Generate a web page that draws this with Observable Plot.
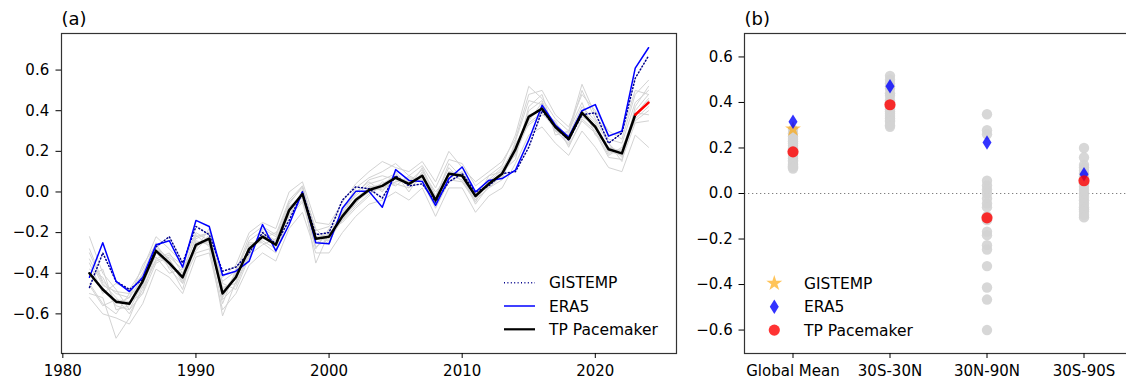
<!DOCTYPE html>
<html><head><meta charset="utf-8">
<script src="https://cdn.jsdelivr.net/npm/d3@7"></script>
<script src="https://cdn.jsdelivr.net/npm/@observablehq/plot@0.6"></script>
<style>
html,body{margin:0;padding:0;background:#fff;overflow:hidden;}
#wrap{position:relative;width:1126px;height:384px;overflow:hidden;font-family:"DejaVu Sans",sans-serif;}
#wrap svg{position:absolute;top:0;}
</style></head><body><div id="wrap"></div>
<script>
// ---------- Panel (a) data ----------
const years = [1982,1983,1984,1985,1986,1987,1988,1989,1990,1991,1992,1993,1994,1995,1996,1997,1998,1999,
  2000,2001,2002,2003,2004,2005,2006,2007,2008,2009,2010,2011,2012,2013,2014,2015,2016,2017,2018,2019,
  2020,2021,2022,2023,2024];
const gistemp = [-0.47,-0.30,-0.44,-0.48,-0.43,-0.27,-0.22,-0.35,
  -0.17,-0.21,-0.39,-0.37,-0.30,-0.20,-0.255,-0.14,0.00,-0.21,
  -0.20,-0.04,0.025,0.016,-0.03,0.08,0.03,0.04,-0.05,0.05,
  0.09,0.00,0.03,0.09,0.10,0.22,0.40,0.32,0.255,0.38,
  0.39,0.24,0.29,0.56,0.67];
const era5 = [-0.42,-0.25,-0.44,-0.49,-0.42,-0.26,-0.24,-0.37,
  -0.14,-0.17,-0.41,-0.39,-0.34,-0.16,-0.29,-0.16,0.00,-0.25,
  -0.255,-0.08,0.003,0.003,-0.075,0.11,0.057,0.052,-0.066,0.066,
  0.123,0.00,0.057,0.066,0.107,0.255,0.427,0.33,0.27,0.40,
  0.43,0.275,0.30,0.61,0.71];
const tpYears = [1982,1983,1984,1985,1986,1987,1988,1989,1990,1991,1992,1993,1994,1995,1996,1997,1998,1999,
  2000,2001,2002,2003,2004,2005,2006,2007,2008,2009,2010,2011,2012,2013,2014,2015,2016,2017,2018,2019,
  2020,2021,2022,2023];
const tpPacemaker = [-0.40,-0.48,-0.54,-0.55,-0.44,-0.29,-0.35,-0.42,
  -0.26,-0.23,-0.50,-0.42,-0.28,-0.22,-0.26,-0.09,-0.01,-0.23,
  -0.22,-0.12,-0.04,0.01,0.03,0.07,0.04,0.08,-0.04,0.09,
  0.08,-0.02,0.04,0.09,0.21,0.37,0.41,0.32,0.26,0.39,
  0.32,0.21,0.19,0.38];
const tpRecentYears = [2023,2024];
const tpRecent = [0.38,0.44];
const members = [
 [-0.30,-0.45,-0.52,-0.60,-0.48,-0.33,-0.30,-0.40, -0.22,-0.20,-0.47,-0.45,-0.30,-0.18,-0.22,-0.05,0.02,-0.18,
  -0.25,-0.10,0.00,0.05,0.00,0.10,0.02,0.12,-0.02,0.12, 0.05,-0.05,0.06,0.12,0.18,0.40,0.45,0.30,0.28,0.42, 0.35,0.24,0.17,0.40,0.48],
 [-0.45,-0.55,-0.60,-0.50,-0.40,-0.25,-0.38,-0.45, -0.30,-0.28,-0.55,-0.38,-0.25,-0.25,-0.30,-0.12,-0.05,-0.28,
  -0.18,-0.15,-0.08,-0.02,0.05,0.03,0.08,0.05,-0.08,0.05, 0.10,0.00,0.02,0.06,0.24,0.33,0.38,0.35,0.22,0.36, 0.30,0.18,0.22,0.35,0.40],
 [-0.22,-0.40,-0.48,-0.58,-0.50,-0.35,-0.32,-0.38, -0.28,-0.18,-0.45,-0.48,-0.32,-0.20,-0.24,-0.06,0.03,-0.20,
  -0.26,-0.08,-0.02,0.04,0.06,0.09,0.00,0.10,0.00,0.08, 0.06,-0.04,0.08,0.10,0.16,0.42,0.48,0.28,0.30,0.44, 0.28,0.24,0.15,0.42,0.52],
 [-0.50,-0.52,-0.72,-0.62,-0.46,-0.30,-0.36,-0.48, -0.24,-0.26,-0.61,-0.44,-0.26,-0.24,-0.28,-0.10,0.00,-0.35,
  -0.20,-0.14,-0.05,0.00,0.02,0.05,0.06,0.06,-0.06,0.10, 0.08,-0.06,0.03,0.08,0.22,0.35,0.44,0.30,0.24,0.40, 0.34,0.20,0.18,0.36,0.42],
 [-0.38,-0.42,-0.55,-0.52,-0.42,-0.28,-0.33,-0.45, -0.27,-0.22,-0.52,-0.40,-0.29,-0.21,-0.25,-0.08,-0.02,-0.25,
  -0.22,-0.12,-0.03,0.02,0.04,0.08,0.04,0.09,-0.05,0.10, 0.09,-0.02,0.04,0.09,0.20,0.38,0.40,0.33,0.25,0.38, 0.31,0.22,0.20,0.37,0.45],
 [-0.35,-0.50,-0.45,-0.48,-0.38,-0.22,-0.28,-0.35, -0.20,-0.24,-0.42,-0.36,-0.20,-0.15,-0.18,0.00,0.05,-0.15,
  -0.16,-0.05,0.04,0.10,0.15,0.12,0.10,0.15,0.05,0.20, 0.12,0.05,0.10,0.15,0.26,0.48,0.50,0.38,0.32,0.48, 0.40,0.30,0.26,0.48,0.55],
 [-0.52,-0.60,-0.62,-0.65,-0.55,-0.38,-0.42,-0.50, -0.32,-0.30,-0.58,-0.50,-0.36,-0.30,-0.34,-0.18,-0.10,-0.30,
  -0.30,-0.20,-0.12,-0.06,-0.04,0.00,-0.04,0.02,-0.12,0.02, 0.02,-0.10,-0.02,0.02,0.14,0.28,0.32,0.24,0.18,0.30, 0.22,0.12,0.10,0.28,0.22],
 [-0.42,-0.38,-0.58,-0.56,-0.40,-0.32,-0.40,-0.38, -0.23,-0.20,-0.48,-0.43,-0.27,-0.23,-0.20,-0.12,0.01,-0.22,
  -0.24,-0.13,-0.06,0.03,0.01,0.05,0.07,0.06,-0.02,0.07, 0.10,-0.03,0.05,0.11,0.23,0.36,0.42,0.34,0.27,0.37, 0.33,0.19,0.21,0.39,0.38],
 [-0.28,-0.44,-0.50,-0.52,-0.36,-0.26,-0.34,-0.44, -0.25,-0.25,-0.50,-0.40,-0.24,-0.19,-0.27,-0.07,-0.03,-0.24,
  -0.19,-0.11,-0.01,0.06,0.08,0.06,0.05,0.11,-0.03,0.14, 0.07,0.00,0.06,0.07,0.25,0.45,0.43,0.30,0.29,0.50, 0.36,0.26,0.24,0.44,0.50],
 [-0.46,-0.56,-0.53,-0.54,-0.50,-0.30,-0.37,-0.40, -0.29,-0.21,-0.53,-0.46,-0.31,-0.26,-0.23,-0.11,-0.04,-0.27,
  -0.23,-0.14,-0.07,-0.01,0.03,0.04,0.02,0.07,-0.07,0.06, 0.05,-0.04,0.02,0.08,0.19,0.34,0.39,0.31,0.23,0.35, 0.29,0.17,0.16,0.34,0.35],
 [-0.40,-0.47,-0.56,-0.58,-0.45,-0.27,-0.33,-0.43, -0.26,-0.24,-0.49,-0.41,-0.28,-0.22,-0.26,-0.09,-0.02,-0.22,
  -0.21,-0.11,-0.04,0.02,0.03,0.08,0.03,0.08,-0.04,0.09, 0.08,-0.01,0.04,0.10,0.22,0.36,0.41,0.32,0.26,0.40, 0.32,0.21,0.19,0.38,0.46],
 [-0.33,-0.46,-0.49,-0.50,-0.47,-0.34,-0.31,-0.36, -0.21,-0.27,-0.44,-0.39,-0.22,-0.17,-0.21,-0.04,0.03,-0.19,
  -0.17,-0.09,0.02,0.07,0.10,0.14,0.08,0.13,0.02,0.16, 0.14,0.03,0.08,0.13,0.28,0.52,0.46,0.36,0.30,0.53, 0.38,0.28,0.29,0.50,0.48]
];
const yearTicks = [1980,1990,2000,2010,2020];
const yTicks = [-0.6,-0.4,-0.2,0.0,0.2,0.4,0.6];

// ---------- Panel (b) data ----------
const regions = ["Global Mean","30S-30N","30N-90N","30S-90S"];
const regionTicks = [0,1,2,3];
const bGistemp = [0.283];
const bEra5 = [0.315,0.471,0.224,0.085];
const bTP = [0.183,0.39,-0.107,0.056];
const bMembers = [
 [0.28,0.265,0.25,0.24,0.23,0.22,0.21,0.20,0.195,0.185,0.175,0.165,0.155,0.145,0.14,0.13,0.125,0.12,0.115,0.11],
 [0.517,0.50,0.483,0.47,0.46,0.44,0.43,0.41,0.40,0.39,0.38,0.37,0.36,0.35,0.34,0.33,0.32,0.315,0.30,0.293],
 [0.348,0.278,0.26,0.056,0.035,0.018,0.0,-0.022,-0.044,-0.06,-0.10,-0.117,-0.168,-0.183,-0.227,-0.246,-0.319,-0.413,-0.466,-0.60],
 [0.20,0.158,0.125,0.114,0.10,0.088,0.075,0.06,0.045,0.03,0.015,0.0,-0.015,-0.03,-0.045,-0.06,-0.07,-0.08,-0.095,-0.105]
];

// ---------- helpers ----------
const FONT = "DejaVu Sans";
const TICK_FS = 15;
const fmt1 = d3.format(".1f");
const series = (xs, vs) => xs.map((x,i)=>({x, v: vs[i]}));
const memberRows = members.flatMap((m,k)=> years.map((y,i)=>({x:y, v:m[i], k})));
const thinDiamond = {
  draw(ctx, size) {
    const r = Math.sqrt(size/Math.PI);
    const h = r*1.45, w = r*0.9;
    ctx.moveTo(0,-h); ctx.lineTo(w,0); ctx.lineTo(0,h); ctx.lineTo(-w,0); ctx.closePath();
  }
};
const style = {fontFamily: FONT, color: "#000", background: "transparent", overflow: "visible"};

const wrap = document.getElementById("wrap");

// ---------- Panel (a) ----------
const pa = Plot.plot({
  width: 690, height: 384,
  marginLeft: 61, marginRight: 14, marginTop: 33, marginBottom: 31,
  style,
  x: {domain: [1979.9, 2026.1]},
  y: {domain: [-0.795, 0.78]},
  marks: [
    Plot.line(memberRows, {x: "x", y: "v", z: "k", stroke: "#d3d3d3", strokeWidth: 1}),
    Plot.line(series(years, gistemp), {x: "x", y: "v", stroke: "#00008b", strokeWidth: 1.5, strokeDasharray: "1,2.4"}),
    Plot.line(series(years, era5), {x: "x", y: "v", stroke: "#0000ff", strokeWidth: 1.5}),
    Plot.line(series(tpYears, tpPacemaker), {x: "x", y: "v", stroke: "#000", strokeWidth: 2.5}),
    Plot.line(series(tpRecentYears, tpRecent), {x: "x", y: "v", stroke: "#ff0000", strokeWidth: 2.5}),
    Plot.frame({stroke: "#333", strokeWidth: 1.2}),
    Plot.axisX({ticks: yearTicks, tickFormat: d => String(d), tickSize: 5, tickPadding: 7, label: null, fontSize: TICK_FS}),
    Plot.axisY({ticks: yTicks, tickFormat: fmt1, tickSize: 5.5, tickPadding: 6.8, label: null, fontSize: TICK_FS}),
    Plot.text(["(a)"], {frameAnchor: "top-left", textAnchor: "start", lineAnchor: "middle", dy: -14, fontSize: 18})
  ]
});
pa.style.left = "0px";
wrap.appendChild(pa);

// ---------- Panel (b) ----------
const bRows = bMembers.flatMap((vals,i)=> vals.map(v=>({x:i, v})));
const idx = vs => vs.map((v,i)=>({x:i, v}));
const pb = Plot.plot({
  width: 442, height: 384,
  marginLeft: 54, marginRight: 0, marginTop: 33, marginBottom: 31,
  style,
  x: {domain: [-0.5, 3.5]},
  y: {domain: [-0.703, 0.703]},
  marks: [
    Plot.ruleY([0], {stroke: "#808080", strokeWidth: 1.1, strokeDasharray: "1.3,2.7"}),
    Plot.dot(bRows, {x: "x", y: "v", r: 5.2, fill: "#d3d3d3", fillOpacity: 0.9}),
    Plot.dot(idx(bGistemp), {x: "x", y: "v", r: 5, symbol: "star", fill: "orange", fillOpacity: 0.65}),
    Plot.dot(idx(bEra5), {x: "x", y: "v", r: 5, symbol: thinDiamond, fill: "#0000ff", fillOpacity: 0.8}),
    Plot.dot(idx(bTP), {x: "x", y: "v", r: 5.6, fill: "#ff0000", fillOpacity: 0.8}),
    Plot.frame({stroke: "#333", strokeWidth: 1.2}),
    Plot.axisX({ticks: regionTicks, tickFormat: i => regions[i], tickSize: 5, tickPadding: 7, label: null, fontSize: TICK_FS}),
    Plot.axisY({ticks: yTicks, tickFormat: fmt1, tickSize: 5.5, tickPadding: 6.3, label: null, fontSize: TICK_FS}),
    Plot.text(["(b)"], {frameAnchor: "top-left", textAnchor: "start", lineAnchor: "middle", dy: -14, fontSize: 18})
  ]
});
pb.style.left = "690px";
wrap.appendChild(pb);

// ---------- Legends (overlay) ----------
const leg = d3.select(wrap).append("svg")
  .attr("width", 1126).attr("height", 384)
  .style("left", "0px").style("pointer-events", "none")
  .attr("font-family", FONT).attr("font-size", 15.5);

const legA = [
  {label: "GISTEMP", stroke: "#00008b", w: 1.5, dash: "1,2.4"},
  {label: "ERA5", stroke: "#0000ff", w: 1.5, dash: null},
  {label: "TP Pacemaker", stroke: "#000", w: 2.2, dash: null}
];
legA.forEach((d,i) => {
  const y = 282.7 + i*23.3;
  leg.append("line").attr("x1", 504).attr("x2", 535).attr("y1", y).attr("y2", y)
    .attr("stroke", d.stroke).attr("stroke-width", d.w).attr("stroke-dasharray", d.dash);
  leg.append("text").attr("x", 549).attr("y", y + 5.6).text(d.label);
});

const legB = [
  {label: "GISTEMP", sym: d3.symbol(d3.symbolStar, 5*5*Math.PI)(), fill: "orange", op: 0.65},
  {label: "ERA5", sym: d3.symbol(thinDiamond, 5*5*Math.PI)(), fill: "#0000ff", op: 0.8},
  {label: "TP Pacemaker", sym: d3.symbol(d3.symbolCircle, 5.6*5.6*Math.PI)(), fill: "#ff0000", op: 0.8}
];
legB.forEach((d,i) => {
  const y = 283.3 + i*23.4;
  leg.append("path").attr("d", d.sym).attr("transform", `translate(774.3,${y})`)
    .attr("fill", d.fill).attr("fill-opacity", d.op);
  leg.append("text").attr("x", 804).attr("y", y + 5.6).text(d.label);
});
</script></body></html>
